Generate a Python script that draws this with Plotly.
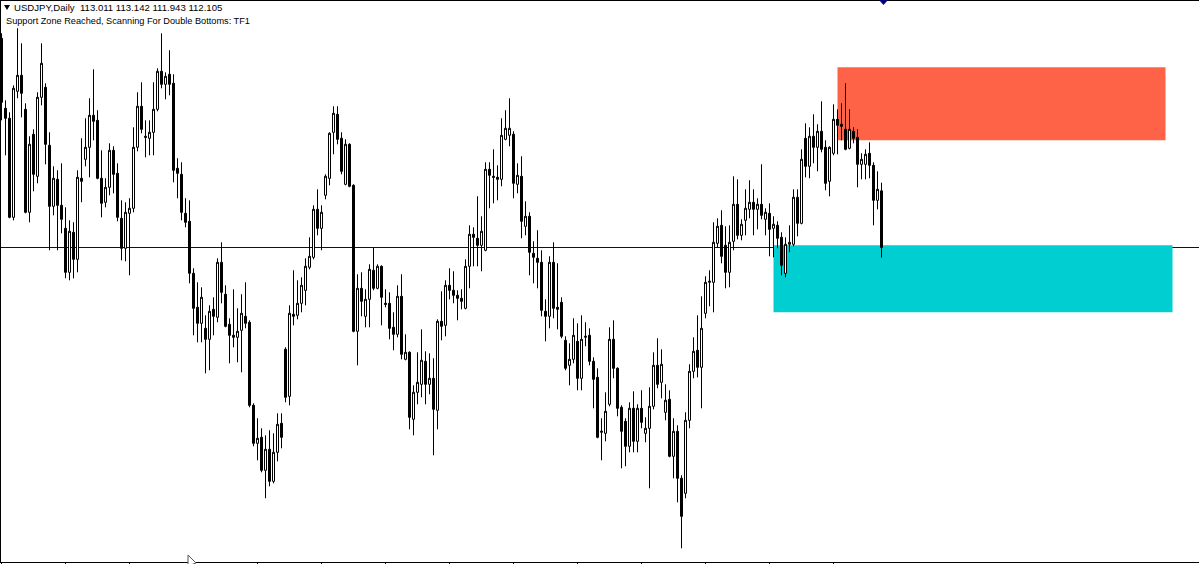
import plotly.graph_objects as go

# ---------------- data (USDJPY, Daily) ----------------
symbol = "USDJPY"
timeframe = "Daily"
status_text = "Support Zone Reached, Scanning For Double Bottoms: TF1"

opens = [
    115.452, 114.332, 114.172, 112.588, 114.604, 114.860, 114.316, 112.668, 113.916, 113.244,
    114.508, 114.668, 113.740, 112.764, 113.196, 112.780, 112.412, 111.708, 112.348, 111.916,
    113.212, 113.516, 113.708, 114.220, 114.140, 113.212, 112.828, 113.068, 113.660, 113.292,
    112.572, 112.092, 112.652, 112.732, 113.708, 114.364, 113.884, 113.852, 113.948, 114.316,
    114.924, 114.716, 114.876, 114.732, 113.372, 113.276, 112.652, 112.524, 111.692, 111.148,
    110.892, 110.812, 110.636, 111.116, 110.988, 111.868, 111.356, 110.876, 110.700, 110.668,
    110.780, 111.004, 110.908, 109.580, 108.972, 109.068, 108.540, 108.876, 108.364, 108.828,
    109.292, 110.476, 109.724, 111.036, 111.020, 111.212, 111.420, 111.788, 111.948, 112.716,
    112.412, 112.940, 113.212, 113.948, 114.236, 113.852, 113.116, 113.756, 113.100, 110.764,
    111.452, 111.004, 111.276, 111.740, 111.452, 111.804, 111.212, 111.212, 110.828, 110.716,
    111.324, 110.316, 110.428, 109.356, 109.788, 109.916, 110.284, 109.916, 110.012, 109.500,
    110.924, 110.860, 111.500, 111.420, 111.340, 111.292, 111.132, 111.804, 112.316, 112.252,
    112.140, 112.060, 113.356, 113.244, 113.228, 113.196, 113.836, 113.900, 113.916, 113.116,
    113.244, 112.444, 112.604, 112.012, 111.932, 111.868, 111.084, 111.004, 111.868, 111.148,
    111.228, 110.620, 110.220, 110.316, 110.604, 110.012, 110.668, 110.700, 110.284, 110.028,
    109.148, 109.132, 109.596, 110.636, 110.172, 109.548, 109.324, 108.924, 109.532, 109.004,
    109.532, 109.132, 109.212, 109.564, 110.220, 109.948, 109.468, 109.676, 108.764, 109.164,
    108.412, 108.172, 109.340, 110.124, 110.460, 110.188, 111.052, 111.548, 111.548, 112.172,
    112.460, 112.140, 111.708, 112.204, 112.796, 112.300, 112.540, 112.716, 112.828, 112.716,
    112.796, 112.556, 112.652, 112.412, 112.460, 112.268, 111.692, 112.156, 112.156, 112.908,
    112.492, 113.852, 113.404, 113.884, 113.708, 113.964, 113.708, 113.164, 113.612, 114.156,
    114.076, 113.996, 113.692, 113.964, 113.868, 113.436, 113.436, 113.612, 113.420, 112.860,
    113.011,
]

highs = [
    115.532, 114.460, 114.268, 114.700, 115.612, 115.372, 114.412, 113.884, 113.996, 114.588,
    115.372, 114.732, 113.948, 113.404, 113.340, 113.452, 112.748, 112.540, 112.508, 113.340,
    113.852, 114.172, 114.492, 114.956, 114.300, 113.660, 113.212, 113.772, 113.724, 113.452,
    112.860, 112.828, 112.892, 114.028, 114.588, 114.748, 114.140, 114.140, 114.748, 114.972,
    115.532, 114.908, 115.260, 114.876, 113.532, 113.468, 112.892, 112.860, 111.772, 111.548,
    111.468, 111.020, 111.180, 111.308, 111.932, 112.188, 111.500, 110.972, 111.436, 111.132,
    111.356, 111.548, 110.940, 109.612, 109.372, 109.212, 109.100, 109.180, 109.132, 109.452,
    109.452, 110.508, 111.180, 111.740, 111.580, 111.628, 111.932, 112.268, 112.780, 113.036,
    112.780, 113.276, 113.948, 114.364, 114.364, 113.948, 113.836, 113.772, 113.116, 111.676,
    111.708, 111.436, 111.836, 112.108, 111.836, 111.820, 111.436, 111.388, 111.068, 111.500,
    111.676, 110.716, 110.444, 109.900, 110.428, 110.796, 110.444, 110.412, 110.332, 110.956,
    111.404, 111.580, 111.772, 111.724, 111.420, 111.436, 111.916, 112.460, 112.428, 112.924,
    112.604, 113.468, 113.468, 113.676, 113.420, 114.172, 114.300, 114.492, 113.964, 113.452,
    113.564, 112.844, 112.668, 112.204, 112.380, 112.060, 111.276, 111.964, 112.188, 111.852,
    111.308, 110.684, 110.572, 110.972, 110.892, 111.020, 110.908, 110.812, 110.348, 110.172,
    109.372, 109.788, 110.828, 110.940, 110.188, 109.580, 109.372, 109.628, 109.804, 109.596,
    109.820, 109.388, 109.868, 110.428, 110.652, 110.476, 109.916, 109.820, 109.372, 109.260,
    108.460, 109.468, 110.236, 110.668, 111.020, 111.324, 111.644, 111.740, 112.508, 112.572,
    112.700, 112.444, 112.460, 113.244, 113.196, 112.556, 113.036, 113.180, 113.036, 112.892,
    113.436, 112.732, 112.812, 112.604, 112.524, 112.348, 112.268, 112.460, 113.036, 113.036,
    113.676, 114.092, 114.028, 114.236, 114.076, 114.444, 113.820, 113.724, 114.396, 114.316,
    114.412, 114.732, 114.316, 114.028, 113.996, 113.612, 113.676, 113.788, 113.468, 113.324,
    113.142,
]

lows = [
    114.140, 113.580, 112.572, 112.540, 114.492, 114.188, 112.652, 112.508, 113.004, 113.132,
    114.380, 113.436, 112.060, 112.620, 112.060, 112.332, 111.612, 111.580, 111.612, 111.708,
    112.828, 113.404, 113.228, 113.820, 113.196, 112.588, 112.748, 112.940, 112.972, 112.524,
    111.900, 111.884, 111.660, 112.668, 113.644, 113.932, 113.548, 113.580, 113.580, 114.284,
    114.652, 114.476, 114.540, 113.148, 112.892, 112.540, 112.428, 111.532, 110.700, 110.588,
    110.588, 110.092, 110.140, 110.700, 110.908, 111.212, 110.828, 110.252, 110.508, 110.268,
    110.108, 110.812, 109.548, 108.924, 108.700, 108.508, 108.092, 108.284, 108.332, 108.684,
    108.892, 109.628, 109.580, 110.860, 110.956, 111.068, 111.180, 111.756, 111.916, 112.300,
    112.060, 112.876, 113.100, 113.596, 113.756, 113.276, 113.100, 113.068, 110.748, 110.220,
    111.004, 110.828, 110.828, 111.420, 111.436, 110.860, 111.148, 110.636, 110.460, 110.668,
    110.316, 110.300, 109.196, 109.100, 109.596, 109.708, 109.596, 109.756, 108.780, 109.196,
    110.620, 110.684, 111.276, 111.212, 110.940, 111.116, 111.116, 111.452, 111.804, 111.804,
    111.724, 112.044, 112.732, 112.812, 112.860, 113.084, 113.820, 113.724, 112.892, 112.972,
    112.252, 112.300, 111.660, 111.532, 111.452, 111.004, 110.604, 110.812, 110.972, 110.796,
    110.652, 110.140, 109.900, 110.252, 109.820, 109.820, 110.524, 110.220, 109.532, 109.052,
    108.700, 109.004, 109.564, 110.012, 109.404, 108.572, 108.604, 108.828, 108.828, 108.828,
    109.212, 108.988, 108.252, 109.516, 109.852, 109.692, 109.340, 108.748, 108.412, 108.028,
    107.292, 108.092, 109.212, 110.012, 110.028, 109.532, 110.972, 111.164, 111.068, 112.108,
    111.852, 111.452, 111.468, 112.060, 112.236, 112.220, 112.300, 112.572, 112.300, 112.396,
    112.556, 112.300, 111.964, 111.948, 112.092, 111.660, 111.628, 112.028, 112.124, 112.284,
    112.476, 113.228, 113.212, 113.452, 113.324, 113.628, 113.020, 112.924, 113.580, 113.596,
    113.820, 113.660, 113.676, 113.772, 113.068, 113.196, 113.196, 113.212, 112.460, 112.716,
    111.943,
]

closes = [
    114.428, 114.172, 112.588, 114.652, 114.860, 114.572, 112.668, 113.756, 113.276, 114.508,
    115.052, 113.756, 112.764, 113.212, 112.780, 112.556, 111.708, 112.364, 111.916, 113.228,
    113.164, 113.708, 114.220, 114.124, 113.212, 112.812, 113.068, 113.660, 113.276, 112.588,
    112.092, 112.668, 112.732, 113.708, 114.364, 113.996, 113.868, 113.948, 114.316, 114.924,
    114.716, 114.844, 114.716, 113.340, 113.292, 112.668, 112.508, 111.692, 111.132, 110.892,
    111.308, 110.636, 111.084, 111.004, 111.868, 111.388, 110.844, 110.700, 110.668, 110.764,
    111.052, 110.892, 109.580, 108.972, 109.052, 108.540, 108.876, 108.364, 108.828, 109.276,
    109.068, 109.708, 111.052, 111.004, 111.212, 111.500, 111.804, 111.964, 112.716, 112.412,
    112.668, 113.244, 113.932, 114.252, 113.836, 113.324, 113.756, 113.084, 110.764, 111.452,
    111.244, 111.276, 111.756, 111.452, 111.804, 111.308, 111.196, 110.812, 110.716, 111.324,
    110.396, 110.428, 109.388, 109.788, 109.948, 110.300, 109.916, 110.012, 109.516, 110.924,
    110.844, 111.500, 111.420, 111.340, 111.292, 111.244, 111.804, 112.316, 112.268, 112.140,
    112.364, 113.356, 113.260, 113.228, 113.196, 113.900, 114.012, 114.012, 113.132, 113.260,
    112.524, 112.604, 112.028, 111.948, 111.868, 111.100, 111.004, 111.868, 111.132, 111.116,
    110.684, 110.172, 110.316, 110.700, 110.012, 110.636, 110.684, 110.284, 109.996, 109.068,
    109.164, 109.484, 110.636, 110.172, 109.532, 109.164, 108.924, 109.532, 109.004, 109.532,
    109.308, 109.212, 109.564, 110.220, 109.916, 110.236, 109.660, 108.764, 109.164, 108.412,
    107.804, 109.340, 110.124, 110.444, 110.188, 110.812, 111.548, 111.564, 112.188, 112.444,
    111.964, 111.708, 112.188, 112.796, 112.300, 112.476, 112.732, 112.828, 112.716, 112.796,
    112.620, 112.668, 112.396, 112.476, 112.252, 111.820, 112.156, 112.188, 112.908, 112.492,
    113.516, 113.404, 113.884, 113.708, 113.964, 113.676, 113.132, 113.708, 114.156, 114.060,
    114.044, 113.676, 113.996, 113.852, 113.436, 113.516, 113.596, 113.420, 112.860, 113.036,
    112.105,
]

bars = list(range(len(opens)))
bid = closes[-1]

# supply / demand zones (bar index span, price span)
resistance_zone_bars = [209, 291]
resistance_zone_prices = [113.82, 114.99]
support_zone_bars = [193, 292.75]
support_zone_prices = [111.07, 112.14]

tick_bars = list(range(0, len(opens), 16))

# ---------------- layout geometry ----------------
W, H = 1199, 564
ML, MR, MT, MB = 1, 0, 1, 2
PW, PH = W - ML - MR, H - MT - MB
PX_PER_BAR = 4.0
X_OFFSET_PX = 0.5          # puts candle centres on half pixels (crisp 1px lines)
YEN_PER_PX = 0.016
Y_TOP = 116.065


def fx(x):
    return (x - ML) / PW


def fy(y):
    return 1 - (y - MT) / PH


fig = go.Figure(
    go.Candlestick(
        x=bars, open=opens, high=highs, low=lows, close=closes,
        increasing=dict(line=dict(color="black", width=1), fillcolor="white"),
        decreasing=dict(line=dict(color="black", width=1), fillcolor="black"),
        whiskerwidth=0, hoverinfo="skip", showlegend=False,
    )
)

shapes = [
    dict(type="rect", xref="x", yref="y", layer="below",
         x0=resistance_zone_bars[0], x1=resistance_zone_bars[1],
         y0=resistance_zone_prices[0], y1=resistance_zone_prices[1],
         fillcolor="#FF6347", line=dict(width=0)),
    dict(type="rect", xref="x", yref="y", layer="below",
         x0=support_zone_bars[0], x1=support_zone_bars[1],
         y0=support_zone_prices[0], y1=support_zone_prices[1],
         fillcolor="#00CED1", line=dict(width=0)),
    dict(type="line", xref="paper", yref="y", layer="below",
         x0=0, x1=1, y0=bid, y1=bid, line=dict(color="#00009A", width=1)),
    # chart-shift marker at the top
    dict(type="path", xref="paper", yref="paper", layer="above",
         path=f"M {fx(879)},{fy(0)} L {fx(888)},{fy(0)} L {fx(883.5)},{fy(5)} Z",
         fillcolor="#000080", line=dict(width=0)),
    # small triangle before the symbol text
    dict(type="path", xref="paper", yref="paper", layer="above",
         path=f"M {fx(4)},{fy(5)} L {fx(10)},{fy(5)} L {fx(7)},{fy(10)} Z",
         fillcolor="black", line=dict(width=0)),
    # mouse cursor
    dict(type="path", xref="paper", yref="paper", layer="above",
         path=f"M {fx(188)},{fy(555)} L {fx(188)},{fy(566)} L {fx(196)},{fy(563)} Z",
         fillcolor="white", line=dict(color="#555555", width=1)),
]

header = f"{symbol},{timeframe}  {opens[-1]:.3f} {highs[-1]:.3f} {lows[-1]:.3f} {closes[-1]:.3f}"

annotations = [
    dict(text=header, xref="paper", yref="paper", x=fx(11.5), y=fy(7.5),
         xanchor="left", yanchor="middle", showarrow=False,
         font=dict(family="Liberation Sans", size=9.6, color="black")),
    dict(text=status_text, xref="paper", yref="paper", x=fx(3.5), y=fy(21.5),
         xanchor="left", yanchor="middle", showarrow=False,
         font=dict(family="Liberation Sans", size=9.2, color="black")),
]

x_start = -X_OFFSET_PX / PX_PER_BAR

fig.update_layout(
    width=W, height=H,
    margin=dict(l=ML, r=MR, t=MT, b=MB, pad=0),
    paper_bgcolor="white", plot_bgcolor="white",
    boxgap=0.5, boxgroupgap=0,
    shapes=shapes, annotations=annotations,
    showlegend=False,
    xaxis=dict(
        range=[x_start, x_start + PW / PX_PER_BAR], showgrid=False, zeroline=False,
        showline=True, linecolor="black", linewidth=1, mirror=True,
        ticks="outside", ticklen=2, tickcolor="black", tickwidth=1,
        tickvals=tick_bars, showticklabels=False,
        rangeslider=dict(visible=False), fixedrange=True,
    ),
    yaxis=dict(
        range=[Y_TOP - YEN_PER_PX * (MT + PH), Y_TOP - YEN_PER_PX * MT],
        showgrid=False, zeroline=False,
        showline=True, linecolor="black", linewidth=1, mirror=False,
        ticks="", showticklabels=False, fixedrange=True,
    ),
)

fig.write_html(
    "out.html",
    config={"displayModeBar": False},
    post_script="document.body.style.margin='0px';document.body.style.overflow='hidden';",
)
